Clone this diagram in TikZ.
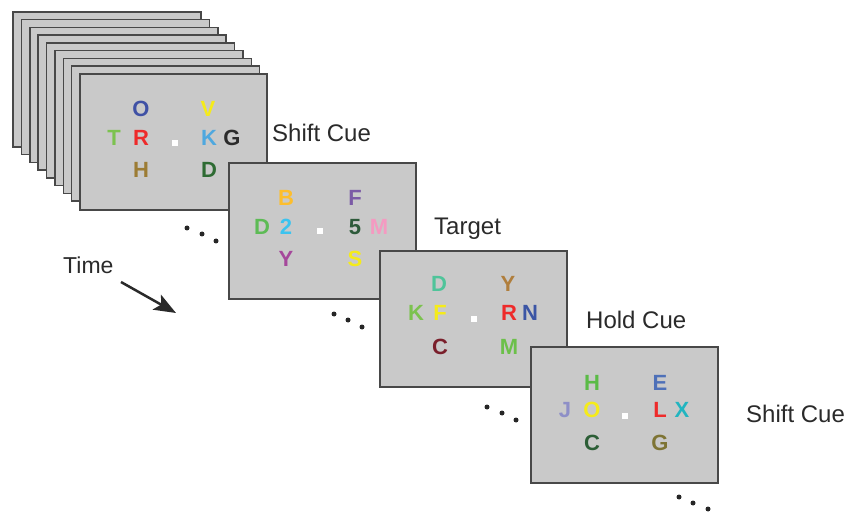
\documentclass[tikz,border=0pt]{standalone}
\usepackage{fontspec}
\setmainfont{Liberation Sans}
\usetikzlibrary{arrows.meta}
\definecolor{panelgray}{HTML}{C9C9C9}
\definecolor{framegray}{HTML}{484848}
\definecolor{labelgray}{HTML}{2A2A2A}
\definecolor{cDarkBlue}{HTML}{3F51A5}
\definecolor{cYellow}{HTML}{F5EB1A}
\definecolor{cGreen}{HTML}{7CC24F}
\definecolor{cRed}{HTML}{EE2A2A}
\definecolor{cLightBlue}{HTML}{4FA8DF}
\definecolor{cBlack}{HTML}{2B2B2B}
\definecolor{cOlive}{HTML}{9C7C34}
\definecolor{cDarkGreen}{HTML}{2E6B33}
\definecolor{cOrange}{HTML}{FDBE2D}
\definecolor{cPurple}{HTML}{7B5AA6}
\definecolor{cGreenB}{HTML}{5DBB55}
\definecolor{cCyan}{HTML}{3CC3EF}
\definecolor{cDarkGreenB}{HTML}{2D5A3A}
\definecolor{cPink}{HTML}{F49AC1}
\definecolor{cMagenta}{HTML}{A5479B}
\definecolor{cTeal}{HTML}{4FC49A}
\definecolor{cBrown}{HTML}{B07E3C}
\definecolor{cNavy}{HTML}{3B55A5}
\definecolor{cDarkRed}{HTML}{7A1F2B}
\definecolor{cGreenC}{HTML}{6CC04A}
\definecolor{cGreenD}{HTML}{5BBB47}
\definecolor{cBlue}{HTML}{4E70B8}
\definecolor{cLavender}{HTML}{8E8FC7}
\definecolor{cTurq}{HTML}{22B5C0}
\definecolor{cDarkGreenC}{HTML}{2C5E36}
\definecolor{cOliveB}{HTML}{7E7434}
\tikzset{
  panel/.style={draw=framegray, line width=1.5pt, fill=panelgray, anchor=north west,
    minimum width=187pt, minimum height=136pt, inner sep=0pt, outer sep=0pt},
  letter/.style={font=\fontsize{22}{22}\selectfont\bfseries, inner sep=0pt, anchor=center},
  fixdot/.style={fill=white, minimum size=6pt, inner sep=0pt},
  elldot/.style={circle, fill=black!85, minimum size=5pt, inner sep=0pt},
  cuelabel/.style={font=\fontsize{24}{28}\selectfont, text=labelgray, inner sep=0pt, anchor=base west},
}
\begin{document}
\begin{tikzpicture}[x=1pt,y=-1pt]
\useasboundingbox (0,0) rectangle (846,513);
% stacked frames behind the first
\foreach \i in {0,...,7}{
  \node[panel, minimum width=188pt, minimum height=135pt] (s\i) at ({13+8.375*\i},{12+7.75*\i}) {};
}
% frame 1
\begin{scope}[shift={(80,74)}]
  \node[panel] (f1) at (0,0) {};
  \node[letter,text=cDarkBlue] (f1a) at (61,35) {O};
  \node[letter,text=cYellow] (f1b) at (128,35) {V};
  \node[letter,text=cGreen] (f1c) at (34,64) {T};
  \node[letter,text=cRed] (f1d) at (61,64) {R};
  \node[fixdot] (f1x) at (95,69) {};
  \node[letter,text=cLightBlue] (f1e) at (129,64) {K};
  \node[letter,text=cBlack] (f1f) at (152,64) {G};
  \node[letter,text=cOlive] (f1g) at (61,96) {H};
  \node[letter,text=cDarkGreen] (f1h) at (129,96) {D};
\end{scope}
\node[elldot] (e1a) at (187,228) {};
\node[elldot] (e1b) at (202,234) {};
\node[elldot] (e1c) at (216,241) {};
\node[cuelabel] (l1) at (272,142) {Shift Cue};
% frame 2
\begin{scope}[shift={(229,163)}]
  \node[panel] (f2) at (0,0) {};
  \node[letter,text=cOrange] (f2a) at (57,35) {B};
  \node[letter,text=cPurple] (f2b) at (126,35) {F};
  \node[letter,text=cGreenB] (f2c) at (33,64) {D};
  \node[letter,text=cCyan] (f2d) at (57,64) {2};
  \node[fixdot] (f2x) at (91,68) {};
  \node[letter,text=cDarkGreenB] (f2e) at (126,64) {5};
  \node[letter,text=cPink] (f2f) at (150,64) {M};
  \node[letter,text=cMagenta] (f2g) at (57,96) {Y};
  \node[letter,text=cYellow] (f2h) at (126,96) {S};
\end{scope}
\node[elldot] (e2a) at (334,314) {};
\node[elldot] (e2b) at (348,320) {};
\node[elldot] (e2c) at (362,327) {};
\node[cuelabel] (l2) at (434,234) {Target};
% frame 3
\begin{scope}[shift={(380,251)}]
  \node[panel] (f3) at (0,0) {};
  \node[letter,text=cTeal] (f3a) at (59,33) {D};
  \node[letter,text=cBrown] (f3b) at (128,33) {Y};
  \node[letter,text=cGreen] (f3c) at (36,62) {K};
  \node[letter,text=cYellow] (f3d) at (60,62) {F};
  \node[fixdot] (f3x) at (94,68) {};
  \node[letter,text=cRed] (f3e) at (129,62) {R};
  \node[letter,text=cNavy] (f3f) at (150,62) {N};
  \node[letter,text=cDarkRed] (f3g) at (60,96) {C};
  \node[letter,text=cGreenC] (f3h) at (129,96) {M};
\end{scope}
\node[elldot] (e3a) at (487,407) {};
\node[elldot] (e3b) at (502,413) {};
\node[elldot] (e3c) at (516,420) {};
\node[cuelabel] (l3) at (586,328) {Hold Cue};
% frame 4
\begin{scope}[shift={(531,347)}]
  \node[panel] (f4) at (0,0) {};
  \node[letter,text=cGreenD] (f4a) at (61,36) {H};
  \node[letter,text=cBlue] (f4b) at (129,36) {E};
  \node[letter,text=cLavender] (f4c) at (34,63) {J};
  \node[letter,text=cYellow] (f4d) at (61,63) {O};
  \node[fixdot] (f4x) at (94,69) {};
  \node[letter,text=cRed] (f4e) at (129,63) {L};
  \node[letter,text=cTurq] (f4f) at (151,63) {X};
  \node[letter,text=cDarkGreenC] (f4g) at (61,96) {C};
  \node[letter,text=cOliveB] (f4h) at (129,96) {G};
\end{scope}
\node[elldot] (e4a) at (679,497) {};
\node[elldot] (e4b) at (693,503) {};
\node[elldot] (e4c) at (708,509) {};
\node[cuelabel] (l4) at (746,422) {Shift Cue};
% time arrow
\node[cuelabel, font=\fontsize{23}{27}\selectfont] (time) at (63,273) {Time};
\coordinate (t0) at (121,282);
\coordinate (t1) at (176,313);
\draw[line width=2.5pt, color=labelgray, -{Stealth[length=22pt,width=17pt,inset=5pt]}] (t0) -- (t1);
\end{tikzpicture}
\end{document}
